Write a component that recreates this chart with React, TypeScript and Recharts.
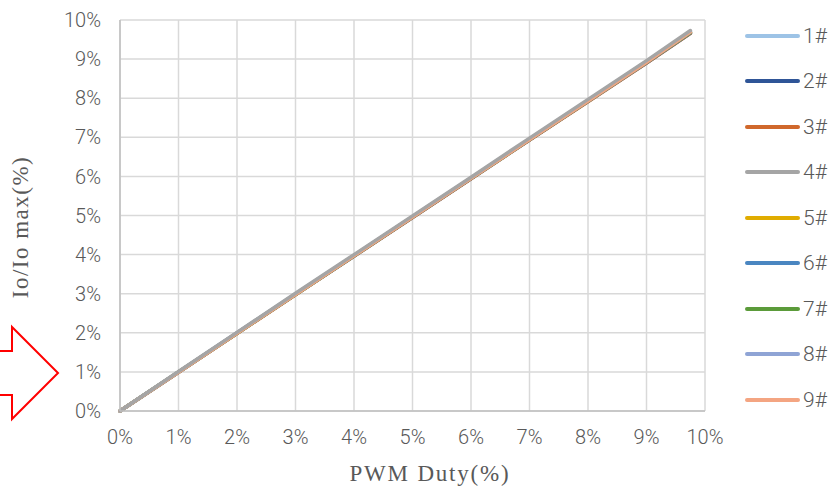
import React from 'react'
import { LineChart, Line, XAxis, YAxis, CartesianGrid, Legend } from 'recharts'

const duty = [0, 1, 2, 3, 4, 5, 6, 7, 8, 9, 9.75]
const seriesNames = ['1#', '2#', '3#', '4#', '5#', '6#', '7#', '8#', '9#']
const seriesColors = ['#9DC3E6', '#2F5597', '#D0682C', '#A5A5A5', '#E0AC00', '#4A86C1', '#5B9B3A', '#8FA4D5', '#F4A582']
const s1 = [0, 1.0, 2.0, 3.0, 3.98, 4.97, 5.96, 6.96, 7.95, 8.94, 9.71]
const s2 = [0, 0.99, 1.99, 2.98, 3.96, 4.95, 5.94, 6.93, 7.92, 8.9, 9.66]
const s3 = [0, 0.99, 1.98, 2.97, 3.96, 4.95, 5.94, 6.93, 7.91, 8.9, 9.66]
const s4 = [0, 1.01, 2.01, 3.01, 4.0, 4.99, 5.98, 6.98, 7.97, 8.96, 9.73]
const s5 = [0, 0.99, 1.99, 2.98, 3.97, 4.96, 5.95, 6.94, 7.93, 8.92, 9.68]
const s6 = [0, 0.99, 1.99, 2.98, 3.97, 4.96, 5.95, 6.94, 7.92, 8.91, 9.67]
const s7 = [0, 1.0, 1.99, 2.98, 3.97, 4.96, 5.95, 6.94, 7.93, 8.92, 9.68]
const s8 = [0, 1.0, 2.0, 2.99, 3.98, 4.97, 5.96, 6.95, 7.94, 8.93, 9.7]
const s9 = [0, 0.99, 1.99, 2.98, 3.97, 4.96, 5.95, 6.94, 7.93, 8.92, 9.69]
const seriesValues = [s1, s2, s3, s4, s5, s6, s7, s8, s9]
const ticks = [0, 1, 2, 3, 4, 5, 6, 7, 8, 9, 10]

// draw 4# last so it sits on top, as in the reference
const drawOrder = [0, 1, 2, 4, 5, 6, 7, 8, 3]

const data = duty.map((d, i) => {
  const row: Record<string, number> = { duty: d }
  seriesNames.forEach((n, k) => {
    row[n] = seriesValues[k][i]
  })
  return row
})

const sansFont = "Roboto, 'Liberation Sans', sans-serif"
const serifFont = "'Liberation Serif', 'Times New Roman', serif"
const tickStyle = { fontSize: 20, fill: '#595959', fontFamily: sansFont, fontWeight: 300 }

function LegendBox() {
  return (
    <div style={{ fontFamily: sansFont, fontWeight: 300 }}>
      {seriesNames.map((n, k) => (
        <div key={n} style={{ display: 'flex', alignItems: 'center', height: 45.5 }}>
          <svg width={57} height={8}>
            <line x1={3} y1={4} x2={54} y2={4} stroke={seriesColors[k]} strokeWidth={4} strokeLinecap="round" />
          </svg>
          <span style={{ fontSize: 21, color: '#595959', marginLeft: 2 }}>{n}</span>
        </div>
      ))}
    </div>
  )
}

export default function App() {
  return (
    <div style={{ position: 'absolute', left: 0, top: 0, width: 836, height: 487, background: '#fff' }}>
      <LineChart width={836} height={487} data={data} margin={{ top: 20, right: 131, bottom: 0, left: 60 }}>
        <CartesianGrid stroke="#D9D9D9" strokeWidth={1.5} />
        <XAxis
          type="number"
          dataKey="duty"
          domain={[0, 10]}
          ticks={ticks}
          tickFormatter={(v) => `${v}%`}
          tick={tickStyle}
          tickLine={false}
          tickSize={0}
          tickMargin={19}
          stroke="#BFBFBF"
          strokeWidth={1.5}
          height={76}
          label={{
            content: () => (
              <text x={430} y={481} textAnchor="middle" fontSize={23} letterSpacing={1.8} fill="#595959" fontFamily={serifFont}>
                PWM Duty(%)
              </text>
            ),
          }}
        />
        <YAxis
          type="number"
          domain={[0, 10]}
          ticks={ticks}
          tickFormatter={(v) => `${v}%`}
          tick={tickStyle}
          tickLine={false}
          tickSize={0}
          tickMargin={19}
          stroke="#BFBFBF"
          strokeWidth={1.5}
          width={60}
          label={{
            content: () => (
              <text
                x={23}
                y={227}
                textAnchor="middle"
                dominantBaseline="middle"
                transform="rotate(-90 23 227)"
                fontSize={23}
                letterSpacing={1.5}
                fill="#595959"
                fontFamily={serifFont}
              >
                Io/Io max(%)
              </text>
            ),
          }}
        />
        <Legend
          layout="vertical"
          align="center"
          verticalAlign="middle"
          content={() => <LegendBox />}
          wrapperStyle={{ left: 744, top: 13, width: 92 }}
        />
        {drawOrder.map((k) => (
          <Line
            key={seriesNames[k]}
            type="linear"
            dataKey={seriesNames[k]}
            stroke={seriesColors[k]}
            strokeWidth={3.5}
            strokeLinecap="round"
            dot={false}
            activeDot={false}
            isAnimationActive={false}
          />
        ))}
      </LineChart>
      <svg width={70} height={100} style={{ position: 'absolute', left: 0, top: 322 }}>
        <polygon
          points="-5,29 12,29 12,5 58,51 12,97 12,73 -5,73"
          fill="none"
          stroke="#FF0000"
          strokeWidth={2}
        />
      </svg>
    </div>
  )
}
